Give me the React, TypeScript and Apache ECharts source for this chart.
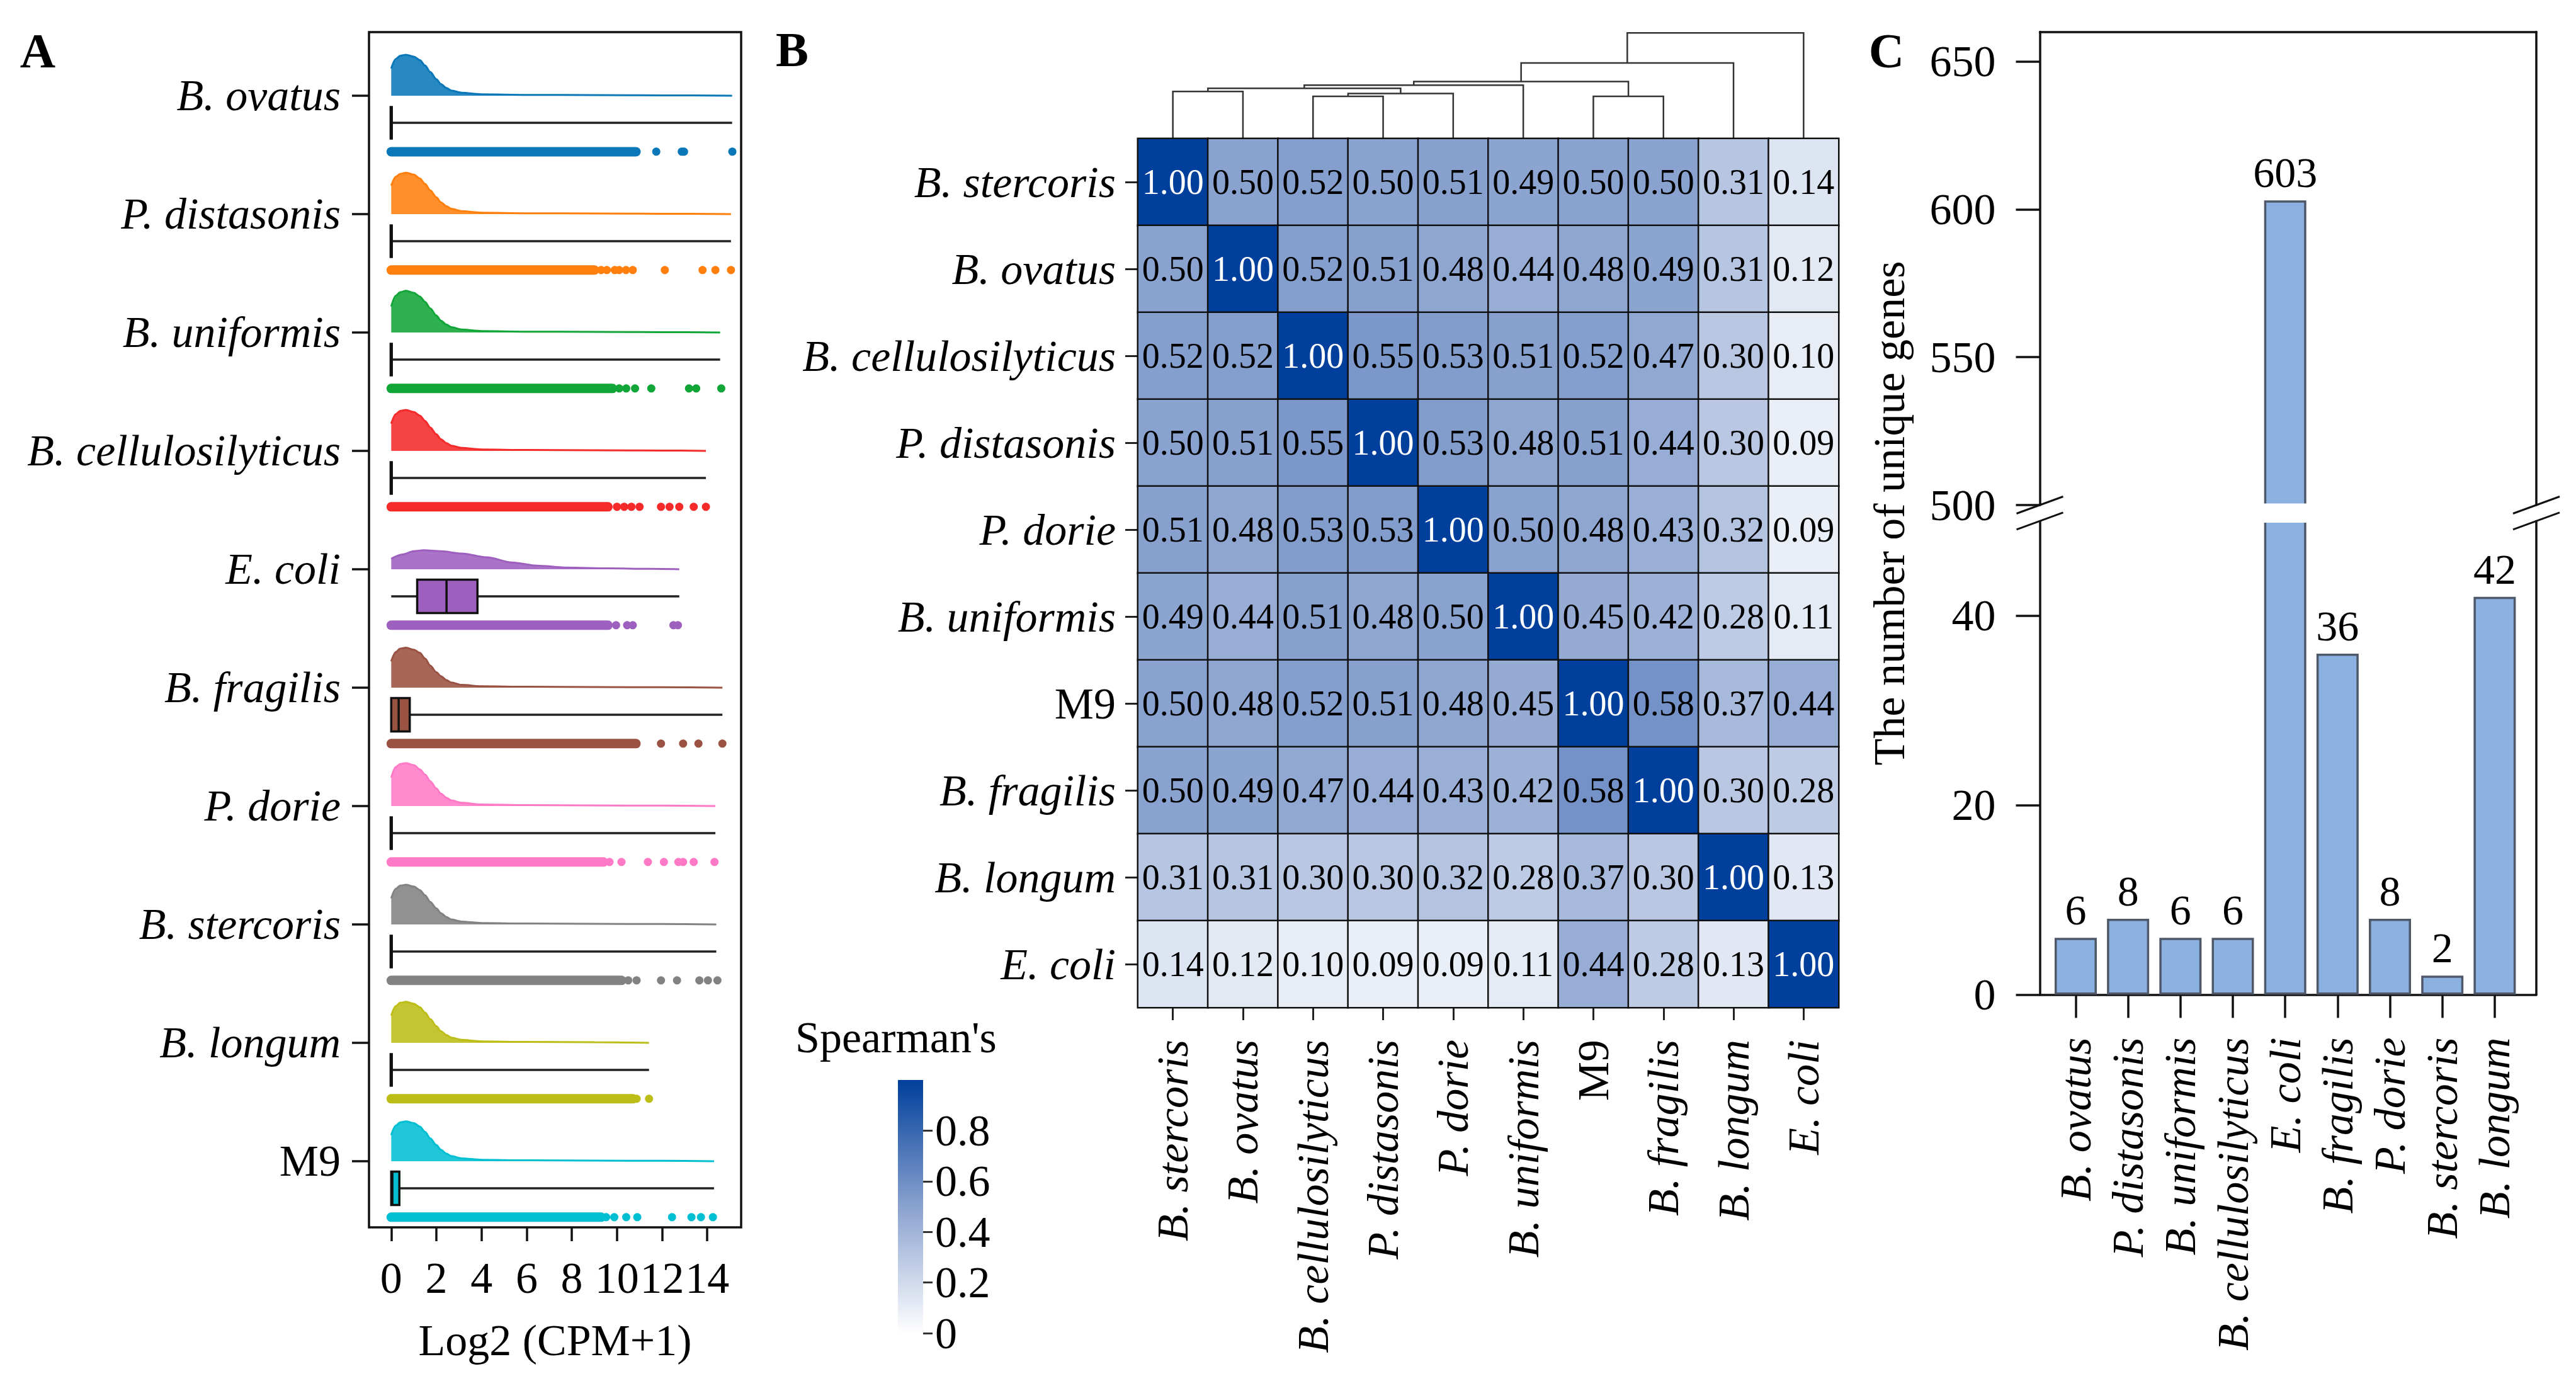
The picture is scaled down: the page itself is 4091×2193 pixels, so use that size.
import React, { useEffect, useRef } from 'react';
import * as echarts from 'echarts';

const FONT = 'Liberation Serif';
const W = 4091;
const H = 2193;

// ---------------- Panel A data ----------------
const A_NAMES = ['B. ovatus', 'P. distasonis', 'B. uniformis', 'B. cellulosilyticus', 'E. coli', 'B. fragilis', 'P. dorie', 'B. stercoris', 'B. longum', 'M9'];
const A_COLORS = ['#0A78B8', '#FF7F0E', '#12A638', '#F52A2A', '#9E60BF', '#9A5242', '#FF7AC6', '#828282', '#BDBD17', '#00BFD3'];
const A_X_TICKS = [0, 2, 4, 6, 8, 10, 12, 14];
const DENS_X = [0, 0.2, 0.4, 0.66, 1.0, 1.27, 1.5, 1.73, 2.0, 2.2, 2.45, 2.66, 3.12, 4.0, 6.0, 9.0, 12.0];
const DENS_OVATUS = [0.23, 0.31, 0.337, 0.346, 0.33, 0.3, 0.255, 0.2, 0.14, 0.098, 0.065, 0.044, 0.025, 0.012, 0.007, 0.005, 0.003];
const DENS_DISTASONIS = [0.24, 0.315, 0.34, 0.35, 0.333, 0.3, 0.255, 0.2, 0.142, 0.1, 0.066, 0.045, 0.025, 0.012, 0.007, 0.005, 0.003];
const DENS_UNIFORMIS = [0.22, 0.31, 0.34, 0.352, 0.335, 0.303, 0.258, 0.203, 0.143, 0.1, 0.066, 0.045, 0.025, 0.012, 0.007, 0.005, 0.003];
const DENS_CELLULO = [0.23, 0.31, 0.337, 0.345, 0.328, 0.298, 0.253, 0.198, 0.14, 0.098, 0.065, 0.044, 0.025, 0.012, 0.007, 0.005, 0.003];
const ECOLI_X = [0, 0.5, 1.0, 1.45, 2.2, 3.12, 4.24, 5.36, 6.47, 7.77, 9.63, 11.5];
const DENS_ECOLI = [0.089, 0.125, 0.152, 0.16, 0.152, 0.133, 0.101, 0.057, 0.03, 0.014, 0.007, 0.003];
const DENS_FRAGILIS = [0.222, 0.3, 0.33, 0.337, 0.32, 0.293, 0.245, 0.186, 0.13, 0.097, 0.063, 0.044, 0.023, 0.012, 0.007, 0.005, 0.003];
const DENS_DORIE = [0.24, 0.33, 0.355, 0.362, 0.345, 0.31, 0.265, 0.21, 0.148, 0.104, 0.07, 0.047, 0.027, 0.013, 0.007, 0.005, 0.003];
const DENS_STERCORIS = [0.22, 0.3, 0.328, 0.335, 0.32, 0.29, 0.245, 0.19, 0.135, 0.095, 0.062, 0.042, 0.024, 0.012, 0.007, 0.005, 0.003];
const DENS_LONGUM = [0.23, 0.31, 0.338, 0.346, 0.33, 0.3, 0.255, 0.2, 0.14, 0.098, 0.065, 0.044, 0.025, 0.012, 0.007, 0.005];
const DENS_M9 = [0.22, 0.3, 0.328, 0.336, 0.322, 0.292, 0.247, 0.192, 0.136, 0.096, 0.063, 0.043, 0.024, 0.012, 0.007, 0.005, 0.003];
const DENS_HEIGHTS = [DENS_OVATUS, DENS_DISTASONIS, DENS_UNIFORMIS, DENS_CELLULO, DENS_ECOLI, DENS_FRAGILIS, DENS_DORIE, DENS_STERCORIS, DENS_LONGUM, DENS_M9];
const A_MAX = [15.1, 15.05, 14.57, 13.94, 12.76, 14.67, 14.36, 14.4, 11.42, 14.3];
const A_MIN = [0, 0, 0, 0, 0, 0, 0, 0, 0, 0];
const BOX_Q1 = [0, 0, 0, 0, 1.15, 0, 0, 0, 0, 0];
const BOX_MED = [0, 0, 0, 0, 2.45, 0.33, 0, 0, 0, 0.05];
const BOX_Q3 = [0, 0, 0, 0, 3.82, 0.82, 0, 0, 0, 0.36];
const BAND_END = [10.84, 9.0, 9.8, 9.6, 9.6, 10.84, 9.4, 10.2, 10.7, 9.3];
const SPARSE_DOTS = [
  [11.74, 12.87, 12.97, 15.11],
  [9.3, 9.55, 9.9, 10.1, 10.4, 10.7, 12.12, 13.79, 14.36, 15.05],
  [10.1, 10.41, 10.8, 11.52, 13.19, 13.51, 14.62],
  [10.0, 10.32, 10.64, 11.0, 11.95, 12.33, 12.76, 13.4, 13.94],
  [9.96, 10.45, 10.7, 12.5, 12.7],
  [11.95, 12.93, 13.61, 14.67],
  [9.67, 10.2, 11.37, 12.08, 12.72, 12.93, 13.4, 14.32],
  [10.5, 10.87, 11.95, 12.66, 13.65, 14.03, 14.45],
  [10.87, 11.42],
  [9.52, 9.88, 10.41, 10.9, 12.44, 13.3, 13.72, 14.25],
];

// ---------------- Panel B data ----------------
const HEAT_NAMES = ['B. stercoris', 'B. ovatus', 'B. cellulosilyticus', 'P. distasonis', 'P. dorie', 'B. uniformis', 'M9', 'B. fragilis', 'B. longum', 'E. coli'];
const HEAT_VALUES = [
  [1.0, 0.5, 0.52, 0.5, 0.51, 0.49, 0.5, 0.5, 0.31, 0.14],
  [0.5, 1.0, 0.52, 0.51, 0.48, 0.44, 0.48, 0.49, 0.31, 0.12],
  [0.52, 0.52, 1.0, 0.55, 0.53, 0.51, 0.52, 0.47, 0.3, 0.1],
  [0.5, 0.51, 0.55, 1.0, 0.53, 0.48, 0.51, 0.44, 0.3, 0.09],
  [0.51, 0.48, 0.53, 0.53, 1.0, 0.5, 0.48, 0.43, 0.32, 0.09],
  [0.49, 0.44, 0.51, 0.48, 0.5, 1.0, 0.45, 0.42, 0.28, 0.11],
  [0.5, 0.48, 0.52, 0.51, 0.48, 0.45, 1.0, 0.58, 0.37, 0.44],
  [0.5, 0.49, 0.47, 0.44, 0.43, 0.42, 0.58, 1.0, 0.3, 0.28],
  [0.31, 0.31, 0.3, 0.3, 0.32, 0.28, 0.37, 0.3, 1.0, 0.13],
  [0.14, 0.12, 0.1, 0.09, 0.09, 0.11, 0.44, 0.28, 0.13, 1.0],
];
const HEAT_COLORS = ['#FFFFFF', '#8AA2CF', '#003F9B'];
const COLORBAR_TICKS = [0, 0.2, 0.4, 0.6, 0.8];
// dendrogram merges: [leftX, leftHeight, rightX, rightHeight, mergeHeight]
const DENDRO_MERGES = [
  [0.5, 0, 1.5, 0, 0.445],
  [2.5, 0, 3.5, 0, 0.4],
  [3.0, 0.4, 4.5, 0, 0.426],
  [1.0, 0.445, 3.75, 0.426, 0.475],
  [2.375, 0.475, 5.5, 0, 0.506],
  [6.5, 0, 7.5, 0, 0.4],
  [3.9375, 0.506, 7.0, 0.4, 0.54],
  [5.469, 0.54, 8.5, 0, 0.715],
  [6.984, 0.715, 9.5, 0, 1.0],
];

// ---------------- Panel C data ----------------
const C_NAMES = ['B. ovatus', 'P. distasonis', 'B. uniformis', 'B. cellulosilyticus', 'E. coli', 'B. fragilis', 'P. dorie', 'B. stercoris', 'B. longum'];
const C_VALUES = [6, 8, 6, 6, 603, 36, 8, 2, 42];
const C_UPPER_TICKS = [500, 550, 600, 650];
const C_LOWER_TICKS = [0, 20, 40];
const C_X_TICKS = [0, 1, 2, 3, 4, 5, 6, 7, 8];

// ---------------- layout ----------------
const GA = { left: 586, top: 51, width: 591, height: 1898 };
const GD = { left: 1807, top: 52.3, width: 1113, height: 167.7 };
const GH = { left: 1807, top: 220, width: 1113, height: 1380 };
const GCB = { left: 1426, top: 1715, width: 40, height: 402 };
const GCU = { left: 3239.5, top: 50.5, width: 788.5, height: 751.5 };
const GCL = { left: 3239.5, top: 827.4, width: 788.5, height: 752 };

const LINE = '#111';
const LW = 3.5;
const FS = 70;

const WHISKER_OFF = 0.229;
const BOX_HALF = 0.141;
const DOT_OFF = 0.473;

function labelRich(name: string) {
  return name === 'M9' ? '{n|M9}' : '{i|' + name + '}';
}
const RICH = {
  i: { fontStyle: 'italic', fontSize: FS, fontFamily: FONT, color: '#000' },
  n: { fontStyle: 'normal', fontSize: FS, fontFamily: FONT, color: '#000' },
};

function buildOption() {
  const series: any[] = [];

  // Panel A densities
  A_NAMES.forEach((name, i) => {
    const xs = i === 4 ? ECOLI_X : DENS_X;
    const hs = DENS_HEIGHTS[i];
    const pts: number[][] = [];
    xs.forEach((x, k) => {
      if (k < hs.length && x < A_MAX[i]) pts.push([x, i - hs[k]]);
    });
    pts.push([A_MAX[i], i]);
    series.push({
      type: 'line',
      name: 'dens-' + name,
      xAxisIndex: 0,
      yAxisIndex: 0,
      data: pts,
      smooth: 0.3,
      smoothMonotone: 'x',
      symbol: 'none',
      silent: true,
      lineStyle: { color: A_COLORS[i], width: 3 },
      areaStyle: { color: A_COLORS[i], opacity: 0.88, origin: i },
      z: 2,
    });
  });

  // Panel A dot bands
  series.push({
    type: 'custom',
    xAxisIndex: 0,
    yAxisIndex: 0,
    silent: true,
    data: A_NAMES.map((_, i) => [i, A_MIN[i], BAND_END[i]]),
    encode: { x: [1, 2], y: 0 },
    renderItem: (params: any, api: any) => {
      const i = api.value(0);
      const p1 = api.coord([api.value(1), i + DOT_OFF]);
      const p2 = api.coord([api.value(2), i + DOT_OFF]);
      return {
        type: 'line',
        shape: { x1: p1[0], y1: p1[1], x2: p2[0], y2: p2[1] },
        style: { stroke: A_COLORS[i], lineWidth: 15, lineCap: 'round' },
      };
    },
    z: 3,
  });

  // Panel A sparse dots
  const dots: number[][] = [];
  SPARSE_DOTS.forEach((arr, i) => arr.forEach((x) => dots.push([x, i + DOT_OFF, i])));
  series.push({
    type: 'scatter',
    xAxisIndex: 0,
    yAxisIndex: 0,
    silent: true,
    symbolSize: 13,
    data: dots,
    itemStyle: { color: (p: any) => A_COLORS[p.data[2]], opacity: 1 },
    z: 3,
  });

  // Panel A boxplots
  series.push({
    type: 'custom',
    xAxisIndex: 0,
    yAxisIndex: 0,
    silent: true,
    data: A_NAMES.map((_, i) => [i, A_MIN[i], BOX_Q1[i], BOX_MED[i], BOX_Q3[i], A_MAX[i]]),
    encode: { x: [1, 2, 3, 4, 5], y: 0 },
    renderItem: (params: any, api: any) => {
      const i = api.value(0);
      const yW = i + WHISKER_OFF;
      const pMin = api.coord([api.value(1), yW]);
      const pMax = api.coord([api.value(5), yW]);
      const pA = api.coord([api.value(2), yW - BOX_HALF]);
      const pB = api.coord([api.value(4), yW + BOX_HALF]);
      const pM1 = api.coord([api.value(3), yW - BOX_HALF]);
      const pM2 = api.coord([api.value(3), yW + BOX_HALF]);
      const wide = api.value(4) - api.value(2) > 0;
      return {
        type: 'group',
        children: [
          {
            type: 'line',
            shape: { x1: pMin[0], y1: pMin[1], x2: pMax[0], y2: pMax[1] },
            style: { stroke: '#222', lineWidth: LW },
          },
          {
            type: 'rect',
            shape: {
              x: pA[0],
              y: Math.min(pA[1], pB[1]),
              width: pB[0] - pA[0],
              height: Math.abs(pB[1] - pA[1]),
            },
            style: { fill: A_COLORS[i], stroke: LINE, lineWidth: wide ? LW : 5 },
          },
          {
            type: 'line',
            shape: { x1: pM1[0], y1: pM1[1], x2: pM2[0], y2: pM2[1] },
            style: { stroke: LINE, lineWidth: wide ? LW : 5 },
          },
        ],
      };
    },
    z: 4,
  });

  // Dendrogram
  series.push({
    type: 'custom',
    xAxisIndex: 1,
    yAxisIndex: 1,
    silent: true,
    data: DENDRO_MERGES,
    encode: { x: [0, 2], y: [1, 3, 4] },
    renderItem: (params: any, api: any) => {
      const a = api.coord([api.value(0), api.value(1)]);
      const b = api.coord([api.value(0), api.value(4)]);
      const c = api.coord([api.value(2), api.value(4)]);
      const d = api.coord([api.value(2), api.value(3)]);
      return {
        type: 'polyline',
        shape: { points: [a, b, c, d] },
        style: { stroke: '#333', lineWidth: 2.5, fill: 'none' },
      };
    },
  });

  // Heatmap
  const heatData: any[] = [];
  HEAT_VALUES.forEach((row, r) =>
    row.forEach((v, c) => {
      heatData.push({ value: [c, r, v], label: { color: v >= 0.99 ? '#FFFFFF' : '#000000' } });
    })
  );
  const heatIndex = series.length;
  series.push({
    type: 'heatmap',
    xAxisIndex: 2,
    yAxisIndex: 2,
    data: heatData,
    silent: true,
    itemStyle: { borderColor: '#111', borderWidth: 2.5 },
    emphasis: { disabled: true },
    label: {
      show: true,
      fontSize: 56,
      fontFamily: FONT,
      formatter: (p: any) => Number(p.value[2]).toFixed(2),
    },
  });

  // Panel C bars
  const barStyle = { color: '#8AB1DF', borderColor: '#4F5869', borderWidth: 3.5 };
  const barLabel = {
    show: true,
    position: 'top',
    distance: 10,
    fontSize: 68,
    fontFamily: FONT,
    color: '#000',
    formatter: (p: any) => String(p.value[1]),
  };
  series.push({
    type: 'bar',
    xAxisIndex: 5,
    yAxisIndex: 5,
    barWidth: 67,
    clip: true,
    silent: true,
    itemStyle: barStyle,
    label: barLabel,
    data: C_VALUES.map((v, k) => (v > 50 ? { value: [k, v], label: { show: false } } : { value: [k, v] })),
  });
  series.push({
    type: 'bar',
    xAxisIndex: 4,
    yAxisIndex: 4,
    barWidth: 67,
    clip: true,
    silent: true,
    itemStyle: barStyle,
    label: barLabel,
    data: C_VALUES.map((v, k) => [k, v]).filter((d) => d[1] > C_UPPER_TICKS[0]),
  });

  const hidden = { show: false };
  const tickStyle = { color: LINE, width: LW };
  const lineOff = (show: boolean) => ({ show, onZero: false, lineStyle: tickStyle });

  const grids = [GA, GD, GH, GCB, GCU, GCL].map((g, k) => ({
    ...g,
    containLabel: false,
    outerBoundsMode: 'none',
    show: k === 0,
    borderColor: LINE,
    borderWidth: LW,
    backgroundColor: 'transparent',
  }));

  const xAxis: any[] = [
    {
      gridIndex: 0,
      type: 'value',
      position: 'bottom',
      min: -0.985,
      max: 15.5,
      axisLine: lineOff(false),
      splitLine: hidden,
      axisTick: { show: true, length: 22, lineStyle: tickStyle, customValues: A_X_TICKS },
      axisLabel: {
        show: true,
        customValues: A_X_TICKS,
        margin: 45,
        fontSize: FS,
        fontFamily: FONT,
        color: '#000',
        formatter: (v: number) => String(v),
      },
    },
    { gridIndex: 1, type: 'value', min: 0, max: 10, show: false, axisLine: { onZero: false } },
    {
      gridIndex: 2,
      type: 'category',
      position: 'bottom',
      data: HEAT_NAMES,
      axisLine: lineOff(false),
      splitLine: hidden,
      axisTick: { show: true, alignWithLabel: true, length: 20, lineStyle: { color: '#222', width: 3 } },
      axisLabel: {
        interval: 0,
        rotate: 90,
        margin: 51,
        formatter: (v: string) => labelRich(v),
        rich: RICH,
      },
    },
    { gridIndex: 3, type: 'value', min: 0, max: 1, show: false, axisLine: { onZero: false } },
    {
      gridIndex: 4,
      type: 'value',
      position: 'top',
      min: -0.685,
      max: 8.795,
      axisLine: lineOff(true),
      axisTick: hidden,
      axisLabel: hidden,
      splitLine: hidden,
    },
    {
      gridIndex: 5,
      type: 'value',
      position: 'bottom',
      min: -0.685,
      max: 8.795,
      axisLine: lineOff(true),
      splitLine: hidden,
      axisTick: { show: true, length: 37, lineStyle: tickStyle, customValues: C_X_TICKS },
      axisLabel: {
        show: true,
        customValues: C_X_TICKS,
        rotate: 90,
        margin: 68,
        formatter: (v: number) => labelRich(C_NAMES[Math.round(v)] || ''),
        rich: RICH,
      },
    },
  ];

  const yAxis: any[] = [
    {
      gridIndex: 0,
      type: 'value',
      position: 'left',
      inverse: true,
      min: -0.537,
      max: 9.559,
      axisLine: lineOff(false),
      splitLine: hidden,
      axisTick: { show: true, length: 27, lineStyle: tickStyle, customValues: [0, 1, 2, 3, 4, 5, 6, 7, 8, 9] },
      axisLabel: {
        show: true,
        customValues: [0, 1, 2, 3, 4, 5, 6, 7, 8, 9],
        margin: 45,
        formatter: (v: number) => labelRich(A_NAMES[Math.round(v)] || ''),
        rich: RICH,
      },
    },
    { gridIndex: 1, type: 'value', min: 0, max: 1, show: false, axisLine: { onZero: false } },
    {
      gridIndex: 2,
      type: 'category',
      position: 'left',
      inverse: true,
      data: HEAT_NAMES,
      axisLine: lineOff(false),
      splitLine: hidden,
      axisTick: { show: true, alignWithLabel: true, length: 20, lineStyle: { color: '#222', width: 3 } },
      axisLabel: {
        interval: 0,
        margin: 35,
        formatter: (v: string) => labelRich(v),
        rich: RICH,
      },
    },
    {
      gridIndex: 3,
      type: 'value',
      position: 'right',
      min: 0,
      max: 1,
      axisLine: lineOff(false),
      splitLine: hidden,
      axisTick: { show: true, length: 15, lineStyle: { color: '#333', width: 3 }, customValues: COLORBAR_TICKS },
      axisLabel: {
        show: true,
        customValues: COLORBAR_TICKS,
        margin: 19,
        fontSize: FS,
        fontFamily: FONT,
        color: '#000',
        formatter: (v: number) => String(v),
      },
    },
    {
      gridIndex: 4,
      type: 'value',
      position: 'left',
      min: 500,
      max: 660,
      axisLine: lineOff(true),
      splitLine: hidden,
      axisTick: { show: true, length: 38, lineStyle: tickStyle, customValues: C_UPPER_TICKS },
      axisLabel: {
        show: true,
        customValues: C_UPPER_TICKS,
        margin: 70,
        fontSize: FS,
        fontFamily: FONT,
        color: '#000',
        formatter: (v: number) => String(v),
      },
    },
    {
      gridIndex: 5,
      type: 'value',
      position: 'left',
      min: 0,
      max: 50,
      axisLine: lineOff(true),
      splitLine: hidden,
      axisTick: { show: true, length: 38, lineStyle: tickStyle, customValues: C_LOWER_TICKS },
      axisLabel: {
        show: true,
        customValues: C_LOWER_TICKS,
        margin: 70,
        fontSize: FS,
        fontFamily: FONT,
        color: '#000',
        formatter: (v: number) => String(v),
      },
    },
    {
      gridIndex: 4,
      type: 'value',
      position: 'right',
      min: 500,
      max: 660,
      axisLine: lineOff(true),
      splitLine: hidden,
      axisTick: hidden,
      axisLabel: hidden,
    },
    {
      gridIndex: 5,
      type: 'value',
      position: 'right',
      min: 0,
      max: 50,
      axisLine: lineOff(true),
      splitLine: hidden,
      axisTick: hidden,
      axisLabel: hidden,
    },
  ];

  const breakLines: any[] = [];
  [GCU.left, GCU.left + GCU.width].forEach((x0) => {
    [GCU.top + GCU.height, GCL.top].forEach((yb) => {
      breakLines.push({
        type: 'line',
        silent: true,
        shape: { x1: x0 - 37, y1: yb + 13.5, x2: x0 + 37, y2: yb - 13.5 },
        style: { stroke: LINE, lineWidth: 3 },
        z: 50,
      });
    });
  });

  const txt = (id: string, text: string, x: number, y: number, extra: any = {}, rot = 0) => ({
    type: 'text',
    id,
    x,
    y,
    rotation: rot,
    silent: true,
    style: {
      text,
      fontSize: FS,
      fontFamily: FONT,
      fill: '#000',
      textAlign: 'center',
      textVerticalAlign: 'middle',
      ...extra,
    },
    z: 60,
  });

  const graphic: any[] = [
    txt('lA', 'A', 60, 80, { fontWeight: 'bold', fontSize: 78 }),
    txt('lB', 'B', 1258, 78, { fontWeight: 'bold', fontSize: 78 }),
    txt('lC', 'C', 2996, 80, { fontWeight: 'bold', fontSize: 78 }),
    txt('xA', 'Log2 (CPM+1)', GA.left + GA.width / 2, 2128),
    txt('sp', "Spearman's", 1263, 1647, { textAlign: 'left' }),
    txt('yC', 'The number of unique genes', 3000, GCU.top + (GCL.top + GCL.height - GCU.top) / 2, {}, Math.PI / 2),
    {
      type: 'rect',
      id: 'cbar',
      silent: true,
      shape: { x: GCB.left, y: GCB.top, width: GCB.width, height: GCB.height },
      style: {
        fill: {
          type: 'linear',
          x: 0,
          y: 0,
          x2: 0,
          y2: 1,
          colorStops: [
            { offset: 0, color: HEAT_COLORS[2] },
            { offset: 0.5, color: HEAT_COLORS[1] },
            { offset: 1, color: HEAT_COLORS[0] },
          ],
        },
      },
      z: 1,
    },
    ...breakLines,
  ];

  return {
    animation: false,
    backgroundColor: '#FFFFFF',
    textStyle: { fontFamily: FONT },
    grid: grids,
    xAxis,
    yAxis,
    visualMap: {
      type: 'continuous',
      show: false,
      min: 0,
      max: 1,
      dimension: 2,
      seriesIndex: heatIndex,
      inRange: { color: HEAT_COLORS },
    },
    graphic,
    series,
  };
}

export default function App() {
  const ref = useRef<HTMLDivElement>(null);
  useEffect(() => {
    document.body.style.margin = '0';
    document.body.style.overflow = 'hidden';
    if (!ref.current) return;
    const chart = echarts.init(ref.current, null, { renderer: 'svg', width: W, height: H });
    chart.setOption(buildOption() as any);
    // white gap across the broken bar, located through the axis scales
    const ecoliIdx = C_VALUES.findIndex((v) => v > C_UPPER_TICKS[0]);
    const cx = chart.convertToPixel({ xAxisIndex: 5 } as any, ecoliIdx) as unknown as number;
    const yTopGap = chart.convertToPixel({ yAxisIndex: 4 } as any, 500) as unknown as number;
    const yBotGap = chart.convertToPixel({ yAxisIndex: 5 } as any, 50) as unknown as number;
    if (typeof cx === 'number' && typeof yTopGap === 'number' && typeof yBotGap === 'number') {
      chart.setOption({
        graphic: [
          {
            type: 'rect',
            id: 'gapmask',
            silent: true,
            shape: { x: cx - 42, y: yTopGap - 2.5, width: 84, height: yBotGap - yTopGap + 5 },
            style: { fill: '#FFFFFF' },
            z: 40,
          },
        ],
      } as any);
    }
    return () => chart.dispose();
  }, []);
  return <div ref={ref} style={{ width: W, height: H }} />;
}
